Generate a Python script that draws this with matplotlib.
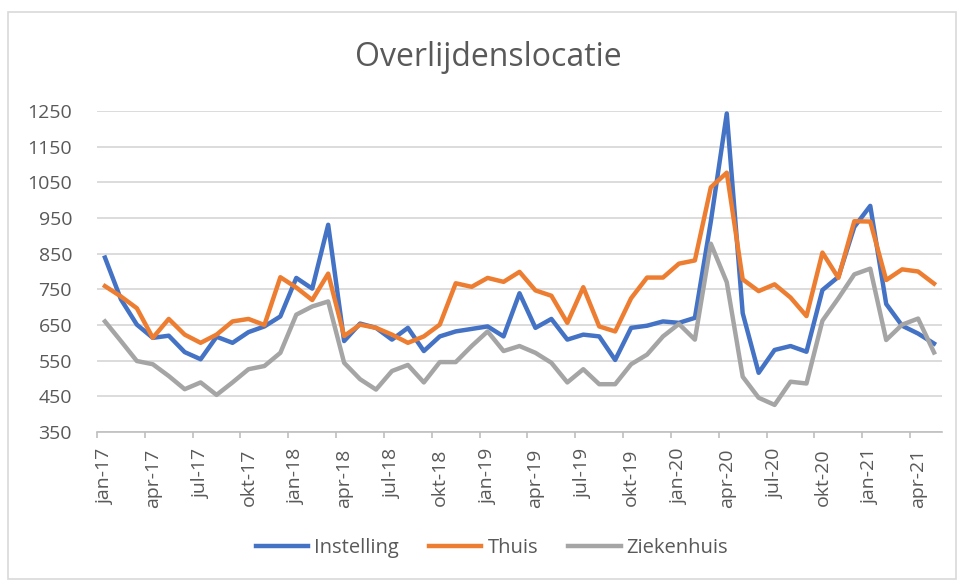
import matplotlib.pyplot as plt
import matplotlib.patches as mpatches

# -- colours ------------------------------------------------------------------
blue = "#4472C4"
orange = "#ED7D31"
grey = "#A5A5A5"
text_grey = "#595959"
grid_grey = "#D9D9D9"

# -- data (monthly, jan-17 .. mei-21) -----------------------------------------
instelling = [
    839, 722, 651, 614, 620, 574, 554, 617, 600, 630, 646, 674,
    782, 752, 931, 605, 654, 642, 609, 642, 577, 618, 632, 639,
    646, 618, 739, 642, 667, 609, 623, 618, 552, 642, 648, 660,
    656, 670, 940, 1243, 683, 516, 580, 591, 575, 748, 785, 925,
    984, 709, 648, 626, 598,
]
thuis = [
    759, 730, 697, 614, 667, 623, 600, 623, 660, 667, 650, 784,
    755, 720, 794, 619, 651, 642, 623, 600, 618, 651, 767, 757,
    782, 771, 799, 747, 732, 656, 756, 646, 632, 725, 783, 783,
    822, 831, 1036, 1077, 778, 745, 764, 727, 675, 853, 782, 941,
    940, 776, 806, 800, 766,
]
ziekenhuis = [
    660, 605, 549, 540, 507, 470, 489, 454, 489, 526, 535, 572,
    679, 702, 716, 544, 498, 469, 521, 538, 489, 546, 546, 591,
    632, 577, 591, 572, 544, 489, 526, 484, 484, 540, 567, 618,
    653, 609, 878, 770, 505, 446, 426, 491, 486, 662, 725, 792,
    808, 608, 651, 668, 573,
]
tick_labels = [
    "jan-17", "apr-17", "jul-17", "okt-17",
    "jan-18", "apr-18", "jul-18", "okt-18",
    "jan-19", "apr-19", "jul-19", "okt-19",
    "jan-20", "apr-20", "jul-20", "okt-20",
    "jan-21", "apr-21",
]
y_ticks = [350, 450, 550, 650, 750, 850, 950, 1050, 1150, 1250]

n = len(instelling)
x = list(range(n))

plt.rcParams["font.family"] = ["Open Sans", "DejaVu Sans"]

# -- figure -------------------------------------------------------------------
fig = plt.figure(figsize=(9.57, 5.8), dpi=100)
ax = fig.add_axes([97 / 957, 1 - 432 / 580, (942 - 97) / 957, (432 - 111) / 580])

# chart-area border
fig.patches.append(mpatches.Rectangle(
    (8 / 957, 1 / 580), 948 / 957, 567 / 580, transform=fig.transFigure,
    facecolor="none", edgecolor="#D9D9D9", linewidth=1.2))

ax.plot(x, instelling, color=blue, lw=3.2, label="Instelling",
        solid_joinstyle="round", zorder=3)
ax.plot(x, thuis, color=orange, lw=3.2, label="Thuis",
        solid_joinstyle="round", zorder=3)
ax.plot(x, ziekenhuis, color=grey, lw=3.2, label="Ziekenhuis",
        solid_joinstyle="round", zorder=3)

ax.set_xlim(-0.5, n - 0.5)
ax.set_ylim(350, 1250)

ax.set_yticks(y_ticks)
ax.yaxis.grid(True, color=grid_grey, linewidth=1.3)
ax.set_axisbelow(True)
ax.tick_params(axis="y", length=0, pad=18, labelsize=14, labelcolor=text_grey)

ax.set_xticks(x[::3], tick_labels, rotation=90)
ax.set_xticks([i - 0.5 for i in x[::3]], minor=True)
ax.tick_params(axis="x", which="major", length=0, pad=12,
               labelsize=14, labelcolor=text_grey)
ax.tick_params(axis="x", which="minor", length=4, width=1.2, color="#BFBFBF")

for side in ["top", "right", "left"]:
    ax.spines[side].set_visible(False)
ax.spines["bottom"].set_color("#BFBFBF")
ax.spines["bottom"].set_linewidth(1.2)

fig.text(488 / 957, 1 - 58 / 580, "Overlijdenslocatie", ha="center", va="center",
         fontsize=23, color=text_grey)

fig.legend(loc="center", bbox_to_anchor=(492 / 957, 1 - 548 / 580), ncol=3,
           frameon=False, fontsize=14.5, labelcolor=text_grey,
           handlelength=2.6, handletextpad=0.3, columnspacing=1.5)

fig.savefig("out.png", dpi=100)
plt.close(fig)
